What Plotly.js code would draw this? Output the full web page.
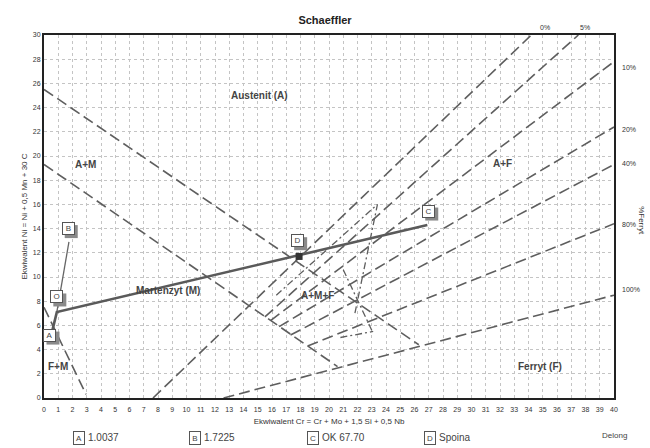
<!DOCTYPE html>
<html>
<head>
<meta charset="utf-8">
<script src="https://cdn.plot.ly/plotly-3.0.1.min.js"></script>
<style>html,body{margin:0;padding:0;background:#fff;}#chart{width:650px;height:448px;}</style>
</head>
<body>
<div id="chart"></div>
<script>
// ---- Data ----
// Ferrite iso-lines (Cr_eq, Ni_eq): lower-left start, upper-right end
const ferriteLabels = ['0%', '5%', '10%', '20%', '40%', '80%', '100%'];
const ferriteStartX = [7.65, 15.5, 15.9, 16.5, 17.3, 18.5, 12.6];
const ferriteStartY = [0.0, 6.7, 6.4, 5.9, 5.2, 4.3, 0.0];
const ferriteEndX = [34.2, 37.5, 40, 40, 40, 40, 40];
const ferriteEndY = [30, 30, 27.8, 22.4, 19.3, 14.4, 8.5];

// Martensite boundary lines
const mLine1X = [0, 26.3], mLine1Y = [25.5, 4.4];
const mLine2X = [0, 20.6], mLine2Y = [19.3, 2.6];
const fmLineX = [0, 2.95], fmLineY = [7.5, 0.3];

// Dash-dot zone lines
const zoneAX = [16.3, 23.4, 21.8], zoneAY = [8.5, 16.0, 6.9];
const zoneBX = [21.0, 23.0], zoneBY = [10.6, 5.6];
const zoneCX = [20.8, 23.1], zoneCY = [5.0, 5.5];

// Material points
const pointNames = ['A', 'B', 'C', 'D', 'O'];
const pointX = [0.55, 1.75, 26.9, 17.9, 0.9];
const pointY = [5.4, 12.9, 14.3, 11.7, 7.1];
const legendNames = ['1.0037', '1.7225', 'OK 67.70', 'Spoina'];

const xTicks = Array.from({length: 41}, (_, i) => i);
const yTicks = Array.from({length: 16}, (_, i) => i * 2);

// ---- Build traces ----
const FONT = "'Liberation Sans Narrow', 'Liberation Sans', Arial, sans-serif";
const dashStyle = {color: '#5e5e5e', width: 1.6, dash: '11px,5px'};
const dashDot = {color: '#5e5e5e', width: 1.3, dash: '7px,3px,2px,3px'};
const traces = [];
for (let i = 0; i < ferriteLabels.length; i++) {
  traces.push({x: [ferriteStartX[i], ferriteEndX[i]], y: [ferriteStartY[i], ferriteEndY[i]],
    mode: 'lines', line: dashStyle, hoverinfo: 'skip', showlegend: false, name: ferriteLabels[i]});
}
[[mLine1X, mLine1Y], [mLine2X, mLine2Y], [fmLineX, fmLineY]].forEach(([xs, ys]) => {
  traces.push({x: xs, y: ys, mode: 'lines', line: dashStyle, hoverinfo: 'skip', showlegend: false});
});
[[zoneAX, zoneAY], [zoneBX, zoneBY], [zoneCX, zoneCY]].forEach(([xs, ys]) => {
  traces.push({x: xs, y: ys, mode: 'lines', line: dashDot, hoverinfo: 'skip', showlegend: false});
});
const iA = 0, iB = 1, iC = 2, iD = 3, iO = 4;
traces.push({x: [pointX[iO], pointX[iB]], y: [pointY[iO], pointY[iB]], mode: 'lines',
  line: {color: '#666', width: 1.3}, hoverinfo: 'skip', showlegend: false});
traces.push({x: [pointX[iA], pointX[iO], pointX[iC]], y: [pointY[iA], pointY[iO], pointY[iC]], mode: 'lines',
  line: {color: '#5a5a5a', width: 2.6}, hoverinfo: 'skip', showlegend: false});
traces.push({x: [pointX[iD]], y: [pointY[iD]], mode: 'markers',
  marker: {symbol: 'square', size: 7, color: '#333'}, hoverinfo: 'skip', showlegend: false});

// ---- Point label boxes (annotation) with drop shadow (square marker behind) ----
const pxX = 40 / 570, pxY = 30 / 363;
const boxPos = {A: [0.42, 5.2], B: [1.7, 14.0], C: [27.0, 15.45], D: [17.8, 13.0], O: [0.9, 8.35]};
traces.push({x: pointNames.map(n => boxPos[n][0] + 3 * pxX), y: pointNames.map(n => boxPos[n][1] - 3 * pxY),
  mode: 'markers', marker: {symbol: 'square', size: 13, color: '#8a8a8a', line: {width: 0}},
  hoverinfo: 'skip', showlegend: false, cliponaxis: false});

const ann = [];
const regionFont = {family: FONT, size: 10, color: '#444', weight: 'bold'};
[['Austenit (A)', 15.1, 25.0], ['A+M', 2.9, 19.3], ['A+F', 32.2, 19.4], ['Martenzyt (M)', 8.7, 8.9],
 ['A+M+F', 19.2, 8.5], ['F+M', 1.0, 2.6], ['Ferryt (F)', 34.8, 2.6]].forEach(([t, x, y]) => {
  ann.push({text: t, x: x, y: y, xref: 'x', yref: 'y', showarrow: false, font: regionFont});
});
pointNames.forEach(n => {
  const [x, y] = boxPos[n];
  ann.push({text: n, x: x, y: y, xref: 'x', yref: 'y', showarrow: false, xanchor: 'center', yanchor: 'middle',
    width: 9, height: 9, borderpad: 1,
    font: {family: FONT, size: 8, color: '#444'}, bgcolor: '#fff', bordercolor: '#555', borderwidth: 1});
});
// ferrite % labels
const labelFont = {family: FONT, size: 7, color: '#333'};
const ferLabPos = [[0.866, 1.036], [0.936, 1.036], [1.011, 0.926], [1.011, 0.755], [1.011, 0.645], [1.011, 0.479], [1.011, 0.284]];
ferriteLabels.forEach((t, i) => {
  ann.push({text: t, x: ferLabPos[i][0], y: ferLabPos[i][1], xref: 'paper', yref: 'paper', showarrow: false,
    xanchor: 'left', font: labelFont});
});
ann.push({text: '%Ferryt', x: 1.0, xshift: 28, xanchor: 'center', y: 0.49, yanchor: 'middle',
  xref: 'paper', yref: 'paper', showarrow: false, textangle: 90,
  font: {family: FONT, size: 8, color: '#333'}});
// legend row
const legX = [0.061, 0.265, 0.472, 0.677];
legendNames.forEach((t, i) => {
  ann.push({text: pointNames[i], x: legX[i], y: -0.11, xref: 'paper', yref: 'paper', showarrow: false,
    xanchor: 'center', yanchor: 'middle', width: 8, height: 10,
    font: {family: FONT, size: 8, color: '#444'}, bordercolor: '#555', borderwidth: 1, borderpad: 1, bgcolor: '#fff'});
  ann.push({text: t, x: legX[i] + 0.013, y: -0.11, xref: 'paper', yref: 'paper', showarrow: false,
    xanchor: 'left', yanchor: 'middle', font: {family: FONT, size: 10, color: '#444'}});
});
ann.push({text: 'Delong', x: 1.0, y: -0.104, xref: 'paper', yref: 'paper', showarrow: false,
  xanchor: 'center', yanchor: 'middle', font: {family: FONT, size: 8, color: '#444'}});

const axisCommon = {
  showgrid: true, gridcolor: '#c4c4c4', griddash: 'dot', gridwidth: 1,
  showline: true, linecolor: '#222', linewidth: 2, mirror: true,
  zeroline: false, ticks: '', tickfont: {family: FONT, size: 7, color: '#333'}, fixedrange: true
};
const layout = {
  width: 650, height: 448,
  margin: {l: 44, r: 36, t: 35, b: 50},
  paper_bgcolor: '#fff', plot_bgcolor: '#fff',
  title: {text: '<b>Schaeffler</b>', x: 0.5, xanchor: 'center', y: 0.955, yanchor: 'middle',
    font: {family: FONT, size: 11, color: '#222'}},
  xaxis: Object.assign({}, axisCommon, {range: [0, 40], tickvals: xTicks, ticktext: xTicks.map(String),
    ticklabelstandoff: 4,
    title: {text: 'Ekwiwalent Cr = Cr + Mo + 1,5 Si + 0,5 Nb', standoff: 6, font: {family: FONT, size: 8, color: '#333'}}}),
  yaxis: Object.assign({}, axisCommon, {range: [0, 30], tickvals: yTicks, ticktext: yTicks.map(String),
    title: {text: 'Ekwiwalent Ni = Ni + 0,5 Mn + 30 C', standoff: 4, font: {family: FONT, size: 8, color: '#333'}}}),
  annotations: ann,
  showlegend: false
};
Plotly.newPlot('chart', traces, layout, {staticPlot: true, displayModeBar: false});
</script>
</body>
</html>
